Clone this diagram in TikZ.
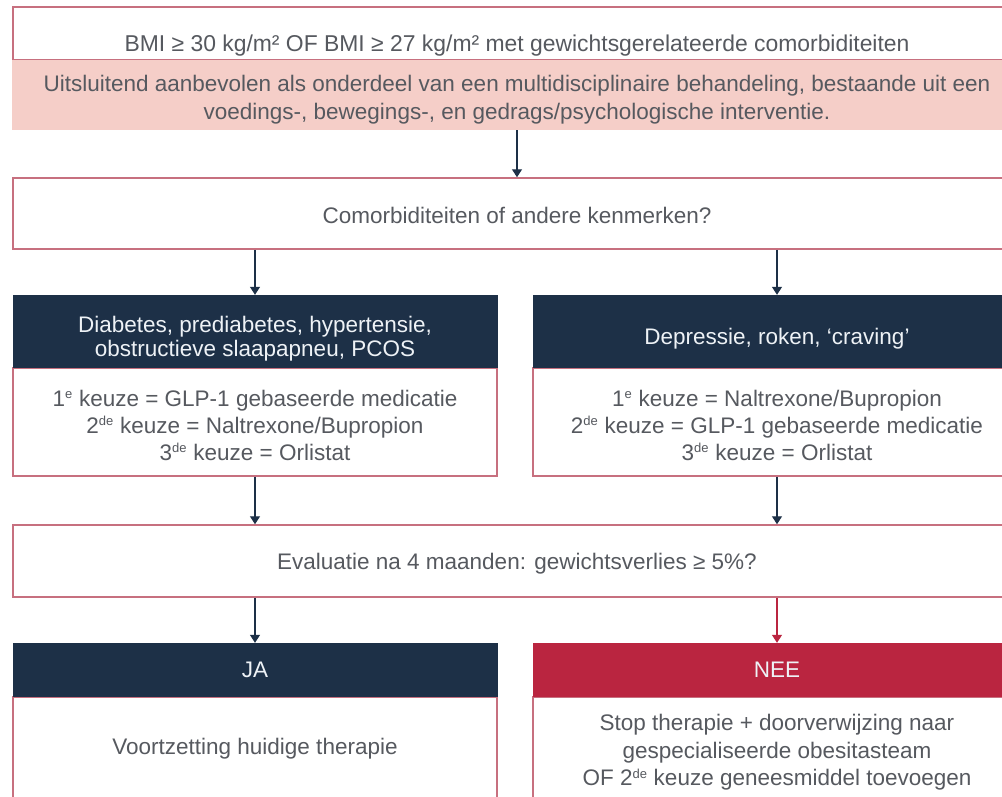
\documentclass[tikz,border=0pt]{standalone}
\usepackage{fontspec}
\setmainfont{Liberation Sans}
\usetikzlibrary{arrows.meta}
\definecolor{navy}{HTML}{1D3047}
\definecolor{crim}{HTML}{BA2540}
\definecolor{bandc}{HTML}{F5CEC8}
\definecolor{edgec}{HTML}{C7707F}
\definecolor{txtc}{HTML}{56595F}
\definecolor{htxt}{HTML}{EEF2F6}
\newcommand{\tstrut}[1]{\rule{0pt}{#1}}
\newcommand{\sups}[1]{\textsuperscript{\fontsize{13}{13}\selectfont #1}}
\begin{document}
\begin{tikzpicture}[x=1pt,y=-1pt,
  base/.style={rectangle, inner sep=0pt, align=center, font=\fontsize{22.5}{27}\selectfont},
  whitebox/.style={base, draw=edgec, line width=1.5pt, fill=white, text=txtc},
  bandbox/.style={base, fill=bandc, text=txtc, font=\fontsize{22.5}{28}\selectfont},
  navyhead/.style={base, fill=navy, text=htxt, font=\fontsize{22.5}{24}\selectfont},
  redhead/.style={base, fill=crim, text=htxt},
  conn/.style={draw=navy, line width=1.3pt, -{Triangle[length=8pt,width=10pt]}},
  redconn/.style={conn, draw=crim, -{Triangle[length=8pt,width=10pt,fill=crim]}}
]
\useasboundingbox (0,0) rectangle (1002,796);
\clip (0,0) rectangle (1002,796);

% top block
\node[whitebox, minimum width=1008pt, minimum height=53pt, font=\fontsize{22.9}{27}\selectfont,
      text height=35pt, text depth=0pt] (crit) at (517,33.5)
  {BMI ≥ 30 kg/m² OF BMI ≥ 27 kg/m² met gewichtsgerelateerde comorbiditeiten};
\node[bandbox, minimum width=1010pt, minimum height=70pt] (band) at (517,95)
  {\tstrut{26.4pt}Uitsluitend aanbevolen als onderdeel van een multidisciplinaire behandeling, bestaande uit een\\
   voedings-, bewegings-, en gedrags/psychologische interventie.};

% question
\node[whitebox, minimum width=1008pt, minimum height=71pt, text height=19pt, text depth=0pt] (q1) at (517,213.5)
  {Comorbiditeiten of andere kenmerken?};

% left column
\node[whitebox, minimum width=484pt, minimum height=108pt] (b1) at (255,422)
  {\tstrut{22.4pt}1\sups{e} keuze = GLP-1 gebaseerde medicatie\\
   2\sups{de} keuze = Naltrexone/Bupropion\\
   3\sups{de} keuze = Orlistat};
\node[navyhead, minimum width=485pt, minimum height=73pt] (h1) at (255,331.5)
  {\tstrut{31.4pt}Diabetes, prediabetes, hypertensie,\\obstructieve slaapapneu, PCOS};

% right column
\node[whitebox, minimum width=488pt, minimum height=108pt] (b2) at (777,422)
  {\tstrut{22.4pt}1\sups{e} keuze = Naltrexone/Bupropion\\
   2\sups{de} keuze = GLP-1 gebaseerde medicatie\\
   3\sups{de} keuze = Orlistat};
\node[navyhead, minimum width=489pt, minimum height=73pt, text height=25.6pt, text depth=0pt] (h2) at (777,331.5)
  {Depressie, roken, ‘craving’};

% evaluation
\node[whitebox, minimum width=1008pt, minimum height=72pt, text height=16.6pt, text depth=0pt] (ev) at (517,561)
  {Evaluatie na 4 maanden: gewichtsverlies ≥ 5\%?};

% outcomes
\node[whitebox, minimum width=484pt, minimum height=106pt, text height=8.6pt, text depth=0pt] (jab) at (255,750)
  {Voortzetting huidige therapie};
\node[navyhead, minimum width=485pt, minimum height=54pt, text height=14pt, text depth=0pt] (ja) at (255,670) {JA};

\node[whitebox, minimum width=488pt, minimum height=106pt, font=\fontsize{22.5}{27.5}\selectfont] (neeb) at (777,750)
  {\tstrut{21.4pt}Stop therapie + doorverwijzing naar\\
   gespecialiseerde obesitasteam\\
   OF 2\sups{de} keuze geneesmiddel toevoegen};
\node[redhead, minimum width=489pt, minimum height=54pt, text height=14pt, text depth=0pt] (nee) at (777,670) {NEE};

% connectors
\draw[conn] (band.south) -- (q1.north);
\draw[conn] (q1.south -| h1.north) -- (h1.north);
\draw[conn] (q1.south -| h2.north) -- (h2.north);
\draw[conn] (b1.south) -- (ev.north -| b1.south);
\draw[conn] (b2.south) -- (ev.north -| b2.south);
\draw[conn] (ev.south -| ja.north) -- (ja.north);
\draw[redconn] (ev.south -| nee.north) -- (nee.north);
\end{tikzpicture}
\end{document}
